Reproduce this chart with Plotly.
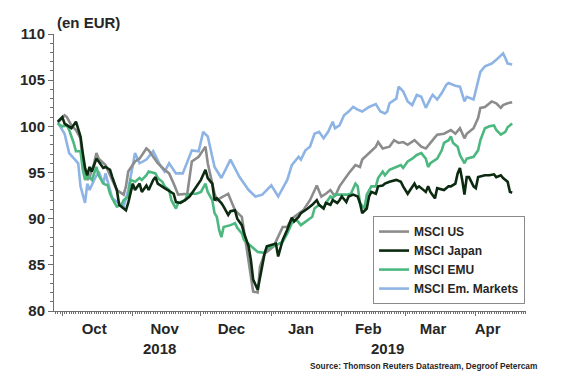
import pandas as pd
import plotly.graph_objects as go

BASE = "2018-10-01"  # day offsets below are counted from this date

us_days = [-2, 1, 2, 4, 6, 8, 9, 11, 12, 14, 15, 16, 19, 22, 24, 27, 28, 29, 32, 34, 37, 38, 40, 42, 45, 47, 49, 51, 55,
           57, 60, 63, 64, 67, 68, 73, 76, 79, 81, 84, 86, 87, 89, 93, 97, 99, 101, 106, 109, 112, 114, 116, 118, 120,
           122, 124, 126, 129, 131, 132, 135, 138, 139, 141, 144, 146, 148, 150, 152, 155, 158, 160, 163, 165, 168, 171,
           173, 175, 177, 178, 181, 183, 184, 186, 189, 191, 193, 194, 196, 198]
us_vals = [100.4, 101.2, 101.0, 100.1, 99.6, 98.7, 95.8, 94.2, 94.5, 96.0, 97.1, 96.5, 95.8, 94.2, 93.1, 92.6, 93.5, 95.1,
           96.2, 96.5, 97.6, 97.4, 96.7, 96.0, 95.3, 94.9, 93.8, 92.6, 92.7, 96.2, 96.7, 97.8, 96.0, 92.7, 92.0, 92.7,
           90.9, 90.2, 87.0, 82.1, 82.0, 84.8, 86.2, 87.0, 89.1, 89.1, 90.0, 90.9, 92.0, 93.6, 92.4, 92.7, 93.1, 92.4,
           93.5, 94.2, 94.9, 95.8, 95.6, 96.4, 97.1, 97.8, 98.3, 97.6, 97.8, 98.5, 98.2, 98.3, 98.0, 98.5, 97.8, 97.6,
           98.5, 99.1, 99.2, 99.6, 99.2, 99.8, 98.7, 99.2, 99.8, 100.9, 102.0, 102.1, 102.7, 102.5, 102.0, 102.3, 102.5,
           102.6]

jp_days = [-2, 0, 1, 3, 4, 6, 7, 8, 9, 10, 11, 12, 13, 15, 16, 18, 19, 21, 22, 24, 25, 27, 28, 29, 30, 31, 32, 34, 35,
           37, 38, 40, 41, 42, 45, 49, 50, 52, 54, 56, 58, 61, 63, 64, 66, 67, 68, 70, 71, 73, 74, 76, 77, 79, 80, 82,
           83, 84, 86, 87, 89, 90, 94, 95, 97, 99, 101, 102, 104, 105, 107, 108, 110, 112, 113, 115, 116, 118, 119, 121,
           122, 123, 125, 126, 128, 130, 131, 132, 134, 135, 136, 138, 139, 141, 142, 144, 147, 149, 150, 152, 155, 156,
           157, 160, 161, 162, 164, 165, 168, 170, 171, 173, 174, 175, 176, 177, 178, 179, 181, 182, 183, 186, 188, 190,
           191, 193, 194, 196, 197, 198]
jp_vals = [100.5, 101.0, 100.3, 100.0, 99.8, 100.5, 99.6, 98.9, 97.1, 95.5, 94.7, 95.6, 95.1, 96.5, 96.2, 95.5, 95.6,
           95.3, 94.5, 93.1, 91.5, 91.1, 90.9, 91.7, 92.7, 93.8, 93.1, 93.8, 92.9, 93.6, 93.1, 94.2, 94.5, 93.8, 93.3,
           92.7, 91.8, 91.7, 92.0, 92.4, 93.1, 94.2, 95.3, 94.4, 93.8, 92.0, 92.2, 91.7, 91.3, 90.4, 90.8, 90.9, 90.0,
           89.3, 88.4, 87.0, 85.5, 83.4, 82.3, 83.7, 86.2, 87.0, 87.3, 85.9, 87.7, 88.8, 90.1, 89.7, 90.2, 90.6, 90.9,
           91.1, 91.5, 92.0, 91.5, 91.1, 91.7, 91.5, 92.0, 91.7, 92.0, 92.4, 91.8, 92.4, 92.6, 92.4, 91.7, 90.6, 91.1,
           92.4, 92.9, 92.7, 93.5, 93.6, 93.8, 94.0, 94.2, 94.0, 93.5, 92.7, 93.8, 93.3, 93.5, 92.9, 93.5, 92.9, 92.2,
           93.3, 93.1, 93.5, 93.5, 93.8, 94.9, 95.5, 94.2, 92.6, 94.5, 94.5, 93.5, 93.3, 94.5, 94.7, 94.7, 94.8, 94.5,
           94.7, 94.4, 94.0, 92.9, 92.8]

emu_days = [-2, 0, 2, 3, 5, 6, 8, 9, 10, 11, 13, 15, 16, 18, 20, 21, 23, 24, 26, 27, 29, 30, 32, 34, 35, 37, 38, 41,
            42, 44, 45, 47, 48, 50, 51, 54, 55, 57, 59, 61, 63, 64, 66, 67, 68, 69, 70, 71, 74, 76, 77, 79, 80, 83, 86,
            89, 90, 93, 94, 97, 99, 101, 103, 105, 107, 110, 111, 113, 115, 116, 118, 119, 120, 125, 127, 129, 130, 131,
            133, 134, 136, 138, 139, 141, 142, 144, 147, 149, 150, 152, 154, 156, 158, 160, 161, 162, 165, 167, 168,
            170, 171, 172, 174, 175, 177, 178, 181, 183, 184, 186, 188, 190, 191, 193, 195, 196, 198]
emu_vals = [100.3, 100.0, 100.1, 99.6, 98.2, 97.3, 97.3, 95.3, 94.2, 94.7, 94.2, 95.6, 94.7, 93.8, 93.6, 92.7, 91.7,
            91.3, 91.5, 92.0, 92.4, 94.2, 94.0, 94.4, 94.2, 94.7, 95.1, 94.9, 94.4, 94.0, 93.5, 93.1, 92.0, 91.1, 91.7,
            92.0, 92.6, 92.7, 92.7, 92.9, 93.8, 92.9, 92.0, 90.6, 90.2, 88.8, 88.0, 89.1, 89.3, 89.5, 89.0, 88.4, 87.7,
            87.0, 86.4, 86.3, 86.8, 87.1, 87.1, 87.5, 88.4, 89.5, 89.9, 89.3, 89.7, 90.2, 91.1, 91.5, 91.1, 91.7, 92.4,
            92.2, 92.6, 92.6, 92.7, 93.8, 93.5, 91.7, 91.1, 92.6, 93.5, 93.5, 94.4, 95.1, 94.7, 95.3, 95.6, 95.8, 95.5,
            96.2, 96.5, 96.9, 97.1, 96.5, 95.6, 96.0, 96.5, 97.4, 98.2, 98.5, 98.9, 98.2, 97.8, 96.9, 96.0, 96.5, 96.7,
            97.4, 98.5, 99.8, 100.0, 100.1, 99.6, 99.1, 99.4, 99.9, 100.3]

em_days = [-2, 1, 3, 7, 8, 10, 11, 12, 14, 16, 18, 19, 21, 22, 27, 29, 32, 34, 37, 40, 43, 45, 47, 50, 53, 57, 60, 62,
           64, 67, 70, 74, 78, 82, 85, 88, 92, 95, 99, 101, 104, 105, 107, 109, 111, 113, 115, 117, 119, 120, 122, 124,
           126, 128, 130, 132, 135, 138, 140, 142, 143, 144, 147, 148, 150, 152, 154, 156, 158, 160, 162, 163, 165, 167,
           169, 170, 173, 175, 177, 178, 181, 183, 184, 186, 189, 191, 192, 194, 195, 196, 198]
em_vals = [100.4, 99.2, 97.1, 96.0, 93.5, 91.7, 93.8, 93.1, 94.2, 95.1, 93.8, 94.9, 93.1, 92.2, 91.3, 93.1, 97.1, 96.0,
           96.4, 97.3, 95.8, 95.1, 96.0, 94.9, 94.9, 97.4, 97.3, 99.4, 98.9, 95.6, 94.4, 96.4, 94.5, 93.1, 92.4, 92.6,
           93.6, 92.4, 94.2, 95.8, 96.7, 96.4, 97.4, 97.8, 99.2, 99.4, 98.7, 99.4, 100.5, 99.8, 100.1, 101.2, 101.6,
           102.1, 101.8, 101.6, 102.1, 102.4, 101.6, 101.4, 101.6, 102.5, 103.0, 104.3, 103.8, 102.7, 102.3, 103.4,
           103.2, 102.0, 103.0, 103.4, 102.9, 103.6, 104.5, 104.7, 104.4, 104.3, 102.7, 103.2, 102.9, 104.7, 105.9,
           106.5, 106.8, 107.2, 107.4, 107.9, 107.4, 106.8, 106.7]

series_names = ["MSCI US", "MSCI Japan", "MSCI EMU", "MSCI Em. Markets"]
month_labels = ["Oct", "Nov", "Dec", "Jan", "Feb", "Mar", "Apr"]
year_labels = ["2018", "2019"]
y_ticks = [80, 85, 90, 95, 100, 105, 110]


def to_dates(days):
    return pd.Timestamp(BASE) + pd.to_timedelta(days, unit="D")


FONT = "Liberation Sans, Arial, sans-serif"
TXT = "#262626"
AX = "#6e6e6e"

colors = {"MSCI US": "#8c8c8c", "MSCI Japan": "#0c2a10", "MSCI EMU": "#4cb880", "MSCI Em. Markets": "#8db4e4"}
data = {
    "MSCI US": (us_days, us_vals),
    "MSCI Japan": (jp_days, jp_vals),
    "MSCI EMU": (emu_days, emu_vals),
    "MSCI Em. Markets": (em_days, em_vals),
}
draw_order = ["MSCI Em. Markets", "MSCI US", "MSCI EMU", "MSCI Japan"]

fig = go.Figure()
for name in draw_order:
    d, v = data[name]
    fig.add_trace(go.Scatter(
        x=to_dates(d), y=v, mode="lines", name=name,
        line=dict(color=colors[name], width=2.6),
        legendrank=series_names.index(name) + 1,
    ))

# invisible copy on the overlay axis so that the month-label axis gets drawn
fig.add_trace(go.Scatter(x=to_dates(us_days), y=us_vals, xaxis="x2", yaxis="y", mode="lines",
                         line=dict(color="rgba(0,0,0,0)", width=0), showlegend=False, hoverinfo="skip"))

x_range = ["2018-09-27 08:00", "2019-04-23 02:00"]
month_starts = ["2018-10-01", "2018-11-01", "2018-12-01", "2019-01-01", "2019-02-01", "2019-03-01", "2019-04-01"]
label_pos = ["2018-10-15", "2018-11-15", "2018-12-14 10:00", "2019-01-14", "2019-02-12 16:00",
             "2019-03-13 05:00", "2019-04-06 05:00"]

# page body has an 8px default margin: figure is sized/offset to compensate
fig.update_layout(
    width=562, height=373,
    margin=dict(l=39, r=44, t=26, b=70),
    paper_bgcolor="white", plot_bgcolor="white",
    font=dict(family=FONT, color=TXT, size=15, weight="bold"),
    showlegend=True,
    legend=dict(
        x=0.998, xanchor="right", y=0.025, yanchor="bottom",
        bgcolor="white", bordercolor="#8a8a8a", borderwidth=1,
        font=dict(size=12, family=FONT, color=TXT, weight="bold"),
        tracegroupgap=0, itemwidth=30, entrywidth=155, entrywidthmode="pixels",
    ),
    xaxis=dict(
        type="date", range=x_range,
        tickmode="array", tickvals=month_starts, showticklabels=False,
        ticks="outside", ticklen=4, tickwidth=1, tickcolor=AX,
        minor=dict(ticks="outside", ticklen=2, tickwidth=1, tickcolor=AX,
                   dtick=86400000, tick0="2018-09-28"),
        showline=True, linecolor=AX, linewidth=1,
        showgrid=False, zeroline=False,
    ),
    xaxis2=dict(
        type="date", range=x_range, overlaying="x", anchor="y", side="bottom",
        tickmode="array", tickvals=label_pos, ticktext=month_labels,
        ticks="outside", ticklen=4, tickcolor="rgba(0,0,0,0)",
        showline=False, showgrid=False, zeroline=False,
        tickfont=dict(size=15, family=FONT, color=TXT, weight="bold"),
    ),
    yaxis=dict(
        range=[80, 110], tickmode="array", tickvals=y_ticks,
        ticks="outside", ticklen=5, tickwidth=1, tickcolor=AX,
        minor=dict(ticks="outside", ticklen=3, tickwidth=1, tickcolor=AX, dtick=1, tick0=80),
        showline=True, linecolor=AX, linewidth=1, showgrid=False, zeroline=False,
        tickfont=dict(size=15, family=FONT, color=TXT, weight="bold"),
    ),
    yaxis2=dict(
        range=[80, 110], overlaying="y", side="right", anchor="x",
        tickmode="array", tickvals=y_ticks,
        ticks="outside", ticklen=5, tickwidth=1, tickcolor=AX,
        minor=dict(ticks="outside", ticklen=3, tickwidth=1, tickcolor=AX, dtick=1, tick0=80),
        showline=True, linecolor=AX, linewidth=1, showgrid=False, zeroline=False,
        tickfont=dict(size=15, family=FONT, color=TXT, weight="bold"),
    ),
)

annotations = [
    dict(text="(en EUR)", xref="paper", yref="paper", x=0.002, y=1.04, xanchor="left", yanchor="middle",
         showarrow=False, font=dict(size=15, family=FONT, color=TXT, weight="bold")),
    dict(text=year_labels[0], xref="paper", yref="paper", x=0.2234, y=-0.137, xanchor="center", yanchor="middle",
         showarrow=False, font=dict(size=15, family=FONT, color=TXT, weight="bold")),
    dict(text=year_labels[1], xref="paper", yref="paper", x=0.7056, y=-0.137, xanchor="center", yanchor="middle",
         showarrow=False, font=dict(size=15, family=FONT, color=TXT, weight="bold")),
    dict(text="Source: Thomson Reuters Datastream, Degroof Petercam", xref="paper", yref="paper",
         x=1.027, y=-0.1986, xanchor="right", yanchor="middle", showarrow=False,
         font=dict(size=8.3, family=FONT, color=TXT, weight="bold")),
]
fig.update_layout(annotations=annotations)

fig.write_html("out.html")
